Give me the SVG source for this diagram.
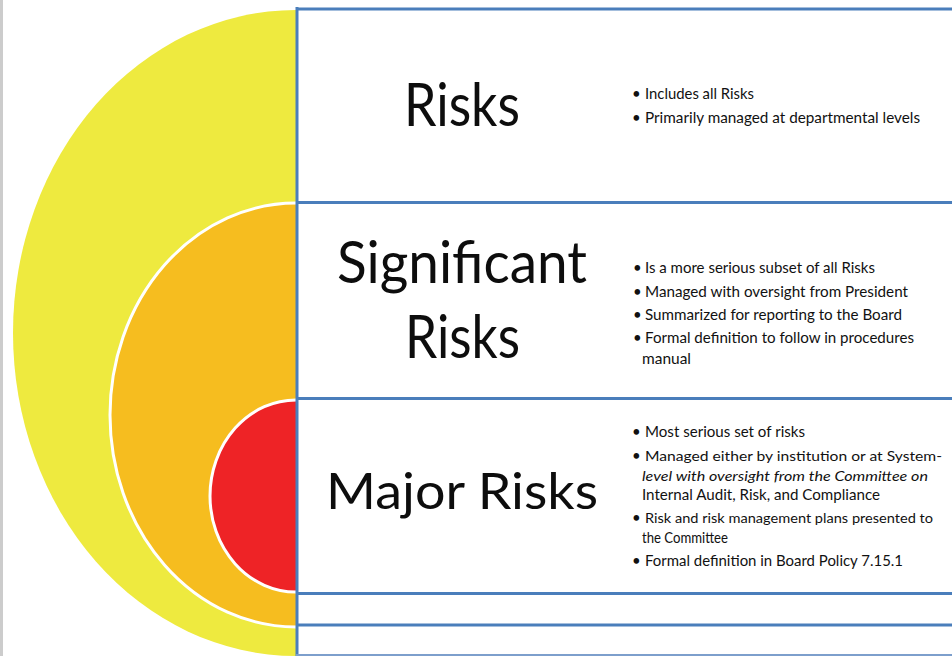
<svg xmlns="http://www.w3.org/2000/svg" width="952" height="656" viewBox="0 0 952 656">
  <defs>
    <clipPath id="leftHalf">
      <rect x="0" y="0" width="297" height="656"/>
    </clipPath>
  </defs>
  <style>
    .title { font-family: Lato, "Open Sans", "Liberation Sans", sans-serif; fill: #0d0d0d; }
    .body { font-family: Lato, "Open Sans", "Liberation Sans", sans-serif; font-size: 15px; fill: #111; }
    .tight { font-size: 14px; }
    .rule { stroke: #4a7ebb; stroke-width: 3; fill: none; }
    .ring { stroke: #ffffff; stroke-width: 3; }
  </style>
  <rect x="0" y="0" width="952" height="656" fill="#ffffff"/>
  <rect x="0" y="0" width="3" height="656" fill="#cccccc"/>

  <g id="circles" clip-path="url(#leftHalf)">
    <ellipse id="circle-risks" cx="296" cy="333" rx="283" ry="323" fill="#eeea3f"/>
    <ellipse id="circle-significant" class="ring" cx="296" cy="415" rx="186" ry="212" fill="#f6bd1f"/>
    <ellipse id="circle-major" class="ring" cx="296" cy="496" rx="86" ry="96" fill="#ee2326"/>
  </g>

  <g id="connectors">
    <line class="rule" x1="297" y1="7" x2="297" y2="656"/>
    <line class="rule" x1="296" y1="9" x2="952" y2="9"/>
    <line class="rule" x1="296" y1="202.5" x2="952" y2="202.5"/>
    <line class="rule" x1="296" y1="398.5" x2="952" y2="398.5"/>
    <line class="rule" x1="296" y1="593.5" x2="952" y2="593.5"/>
    <line class="rule" x1="296" y1="625" x2="952" y2="625"/>
    <line x1="296" y1="655" x2="952" y2="655" stroke="#7d9fcc" stroke-width="2"/>
  </g>

  <g id="tier-risks">
    <text class="title" x="404" y="126" font-size="60" textLength="116" lengthAdjust="spacingAndGlyphs">Risks</text>
    <text class="body" x="632" y="99">•</text>
    <text class="body" x="645" y="99" textLength="109" lengthAdjust="spacingAndGlyphs">Includes all Risks</text>
    <text class="body" x="632" y="123">•</text>
    <text class="body" x="645" y="123" textLength="275" lengthAdjust="spacingAndGlyphs">Primarily managed at departmental levels</text>
  </g>

  <g id="tier-significant">
    <text class="title" x="337" y="283" font-size="58" textLength="250" lengthAdjust="spacingAndGlyphs">Significant</text>
    <text class="title" x="405" y="358" font-size="60" textLength="115" lengthAdjust="spacingAndGlyphs">Risks</text>
    <text class="body" x="633" y="273">•</text>
    <text class="body" x="645" y="273" textLength="230" lengthAdjust="spacingAndGlyphs">Is a more serious subset of all Risks</text>
    <text class="body" x="633" y="297">•</text>
    <text class="body" x="645" y="297" textLength="263" lengthAdjust="spacingAndGlyphs">Managed with oversight from President</text>
    <text class="body" x="633" y="320">•</text>
    <text class="body" x="645" y="320" textLength="257" lengthAdjust="spacingAndGlyphs">Summarized for reporting to the Board</text>
    <text class="body" x="633" y="343">•</text>
    <text class="body" x="645" y="343" textLength="269" lengthAdjust="spacingAndGlyphs">Formal definition to follow in procedures</text>
    <text class="body" x="642" y="364" textLength="49" lengthAdjust="spacingAndGlyphs">manual</text>
  </g>

  <g id="tier-major">
    <text class="title" x="326" y="509" font-size="50" textLength="272" lengthAdjust="spacingAndGlyphs">Major Risks</text>
    <text class="body" x="632" y="437">•</text>
    <text class="body" x="645" y="437" textLength="160" lengthAdjust="spacingAndGlyphs">Most serious set of risks</text>
    <text class="body" x="632" y="461">•</text>
    <text class="body tight" x="645" y="461" textLength="297" lengthAdjust="spacingAndGlyphs">Managed either by institution or at System-</text>
    <text class="body tight" x="642" y="481" font-style="italic" textLength="286" lengthAdjust="spacingAndGlyphs">level with oversight from the Committee on</text>
    <text class="body" x="642" y="500" textLength="238" lengthAdjust="spacingAndGlyphs">Internal Audit, Risk, and Compliance</text>
    <text class="body" x="632" y="523">•</text>
    <text class="body tight" x="645" y="523" textLength="288" lengthAdjust="spacingAndGlyphs">Risk and risk management plans presented to</text>
    <text class="body" x="642" y="543" textLength="86" lengthAdjust="spacingAndGlyphs">the Committee</text>
    <text class="body" x="632" y="566">•</text>
    <text class="body" x="645" y="566" textLength="258" lengthAdjust="spacingAndGlyphs">Formal definition in Board Policy 7.15.1</text>
  </g>
</svg>
